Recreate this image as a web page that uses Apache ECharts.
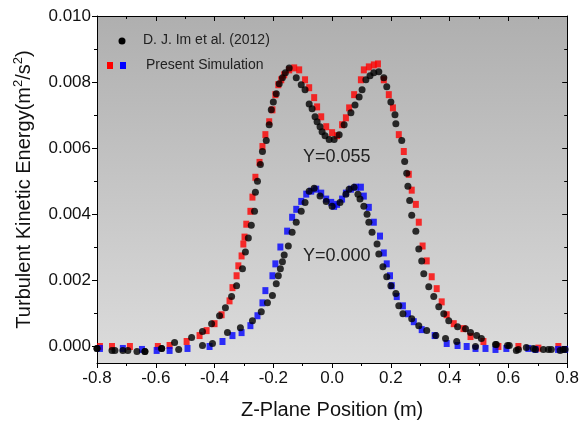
<!DOCTYPE html>
<html>
<head>
<meta charset="utf-8">
<script src="https://cdn.jsdelivr.net/npm/echarts@6/dist/echarts.min.js"></script>
<style>html,body{margin:0;padding:0;background:#fff;}#c{width:582px;height:425px;}</style>
</head>
<body>
<div id="c"></div>
<script>
// Present Simulation, Y=0.055 (red squares)
var simY055 = [[-0.790,0.0],[-0.749,0.0],[-0.688,0.0],[-0.593,0.0],[-0.553,0.00003],[-0.495,0.00015],[-0.451,0.00033],[-0.427,0.00048],[-0.400,0.00069],[-0.376,0.00096],[-0.349,0.00138],[-0.339,0.00178],[-0.325,0.00214],[-0.319,0.00244],[-0.308,0.00274],[-0.302,0.00310],[-0.298,0.00331],[-0.292,0.00370],[-0.278,0.00409],[-0.271,0.00452],[-0.261,0.00512],[-0.247,0.00557],[-0.237,0.00605],[-0.227,0.00641],[-0.214,0.00680],[-0.203,0.00716],[-0.193,0.00762],[-0.183,0.00792],[-0.173,0.00807],[-0.163,0.00822],[-0.146,0.00837],[-0.129,0.00843],[-0.112,0.00837],[-0.092,0.00807],[-0.078,0.00783],[-0.061,0.00753],[-0.051,0.00725],[-0.037,0.00695],[-0.020,0.00665],[0.000,0.00647],[0.017,0.00638],[0.034,0.00671],[0.047,0.00692],[0.058,0.00722],[0.075,0.00762],[0.098,0.00807],[0.108,0.00837],[0.125,0.00846],[0.142,0.00852],[0.156,0.00855],[0.176,0.00807],[0.193,0.00762],[0.207,0.00722],[0.227,0.00641],[0.244,0.00590],[0.261,0.00521],[0.271,0.00473],[0.285,0.00430],[0.295,0.00376],[0.308,0.00304],[0.322,0.00259],[0.339,0.00211],[0.356,0.00175],[0.373,0.00135],[0.390,0.00096],[0.414,0.00069],[0.447,0.00054],[0.471,0.00030],[0.515,0.00015],[0.566,0.0],[0.634,0.0],[0.702,-0.00005],[0.770,0.0]];
// Present Simulation, Y=0.000 (blue squares)
var simY000 = [[-0.790,-0.00006],[-0.712,-0.00006],[-0.647,-0.00009],[-0.597,-0.00012],[-0.553,-0.00012],[-0.492,-0.00006],[-0.417,0.0],[-0.373,0.00015],[-0.339,0.00033],[-0.308,0.00042],[-0.278,0.00063],[-0.254,0.00093],[-0.237,0.00132],[-0.227,0.00169],[-0.203,0.00214],[-0.193,0.00250],[-0.176,0.00301],[-0.153,0.00349],[-0.136,0.00391],[-0.122,0.00415],[-0.105,0.00439],[-0.088,0.00461],[-0.071,0.00470],[-0.054,0.00476],[-0.037,0.00464],[-0.020,0.00446],[-0.003,0.00436],[0.007,0.00424],[0.017,0.00430],[0.034,0.00446],[0.047,0.00464],[0.064,0.00476],[0.081,0.00482],[0.098,0.00482],[0.108,0.00455],[0.125,0.00421],[0.142,0.00376],[0.163,0.00334],[0.176,0.00283],[0.186,0.00250],[0.197,0.00214],[0.203,0.00184],[0.220,0.00151],[0.241,0.00123],[0.258,0.00099],[0.278,0.00075],[0.305,0.00051],[0.349,0.00033],[0.390,0.00009],[0.427,0.00003],[0.458,0.0],[0.488,-0.00006],[0.522,-0.00006],[0.556,-0.00009],[0.593,-0.00006],[0.668,-0.00006],[0.692,-0.00009],[0.769,-0.00009],[0.793,-0.00009]];
// D. J. Im et al. (2012), Y=0.055 (black circles)
var expY055 = [[-0.800,-0.00006],[-0.749,-0.00012],[-0.712,-0.00012],[-0.664,-0.00015],[-0.637,-0.00015],[-0.580,-0.00006],[-0.536,0.00012],[-0.478,0.00027],[-0.441,0.00045],[-0.410,0.00069],[-0.383,0.00093],[-0.363,0.00117],[-0.342,0.00151],[-0.325,0.00184],[-0.305,0.00235],[-0.295,0.00286],[-0.285,0.00328],[-0.275,0.00367],[-0.264,0.00409],[-0.261,0.00467],[-0.254,0.00500],[-0.244,0.00551],[-0.237,0.00590],[-0.224,0.00623],[-0.214,0.00671],[-0.207,0.00716],[-0.200,0.00740],[-0.190,0.00765],[-0.180,0.00795],[-0.169,0.00813],[-0.159,0.00828],[-0.146,0.00843],[-0.122,0.00813],[-0.105,0.00792],[-0.092,0.00777],[-0.078,0.00734],[-0.068,0.00719],[-0.058,0.00695],[-0.051,0.00680],[-0.041,0.00665],[-0.034,0.00650],[-0.024,0.00638],[-0.010,0.00626],[0.007,0.00626],[0.024,0.00641],[0.041,0.00671],[0.064,0.00707],[0.078,0.00731],[0.092,0.00755],[0.102,0.00777],[0.115,0.00807],[0.129,0.00819],[0.142,0.00828],[0.159,0.00831],[0.176,0.00813],[0.186,0.00786],[0.200,0.00740],[0.214,0.00701],[0.217,0.00674],[0.237,0.00623],[0.247,0.00560],[0.254,0.00524],[0.258,0.00485],[0.264,0.00442],[0.271,0.00397],[0.285,0.00349],[0.295,0.00295],[0.305,0.00259],[0.312,0.00220],[0.329,0.00181],[0.346,0.00151],[0.363,0.00120],[0.380,0.00099],[0.397,0.00078],[0.427,0.00060],[0.454,0.00054],[0.471,0.00042],[0.492,0.00033],[0.508,0.00024],[0.559,0.00006],[0.603,0.00003],[0.627,-0.00012],[0.661,-0.00003],[0.692,-0.00009],[0.719,-0.00009],[0.746,-0.00009],[0.776,-0.00012],[0.793,-0.00009]];
// D. J. Im et al. (2012), Y=0.000 (black circles)
var expY000 = [[-0.800,-0.00006],[-0.739,-0.00012],[-0.695,-0.00012],[-0.637,-0.00015],[-0.580,-0.00006],[-0.522,-0.00009],[-0.441,0.00003],[-0.407,0.00009],[-0.356,0.00042],[-0.312,0.00057],[-0.271,0.00078],[-0.241,0.00105],[-0.220,0.00132],[-0.203,0.00154],[-0.190,0.00190],[-0.183,0.00214],[-0.176,0.00235],[-0.169,0.00256],[-0.163,0.00277],[-0.149,0.00304],[-0.136,0.00346],[-0.122,0.00376],[-0.105,0.00409],[-0.092,0.00436],[-0.078,0.00470],[-0.061,0.00479],[-0.041,0.00455],[-0.020,0.00439],[0.000,0.00424],[0.027,0.00436],[0.047,0.00461],[0.058,0.00476],[0.075,0.00482],[0.088,0.00461],[0.095,0.00446],[0.108,0.00424],[0.119,0.00400],[0.125,0.00376],[0.136,0.00346],[0.153,0.00310],[0.159,0.00280],[0.173,0.00241],[0.186,0.00211],[0.200,0.00184],[0.217,0.00160],[0.227,0.00123],[0.241,0.00099],[0.271,0.00084],[0.295,0.00063],[0.322,0.00048],[0.353,0.00033],[0.386,0.00024],[0.424,0.00015],[0.488,0.0],[0.556,0.00006],[0.597,0.00003],[0.634,-0.00009],[0.685,-0.00006],[0.736,-0.00009],[0.786,-0.00009]];

var yMajorTicks = [0, 0.002, 0.004, 0.006, 0.008, 0.010];
var yMinorTicks = [0.001, 0.003, 0.005, 0.007, 0.009];
var legendNames = ['D. J. Im et al. (2012)', 'Present Simulation'];
var curveLabels = ['Y=0.055', 'Y=0.000'];

var FONT = 'Liberation Sans, Arial, sans-serif';
var chart = echarts.init(document.getElementById('c'), null, {renderer: 'canvas'});
var axisLineStyle = {color: '#000', width: 1};
var yCommon = {type: 'value', min: -0.0005, max: 0.010, splitLine: {show: false}};

var option = {
  animation: false,
  backgroundColor: '#fff',
  grid: {
    left: 97, right: 13, top: 16, bottom: 60, show: true, borderWidth: 0,
    backgroundColor: new echarts.graphic.LinearGradient(0, 0, 0, 1, [
      {offset: 0, color: '#afafaf'}, {offset: 1, color: '#dcdcdc'}
    ])
  },
  xAxis: [
    {
      type: 'value', min: -0.8, max: 0.8, interval: 0.2, position: 'bottom',
      axisLine: {show: true, onZero: false, lineStyle: axisLineStyle},
      axisTick: {show: true, inside: false, length: 5, lineStyle: axisLineStyle},
      minorTick: {show: true, splitNumber: 2, length: 3, lineStyle: axisLineStyle},
      splitLine: {show: false},
      axisLabel: {
        color: '#111', fontSize: 17, fontFamily: FONT, margin: 7,
        formatter: function (v) { return Math.abs(v) < 1e-9 ? '0.0' : v.toFixed(1); }
      },
      name: 'Z-Plane Position (m)', nameLocation: 'middle', nameGap: 37,
      nameTextStyle: {color: '#111', fontSize: 20, fontFamily: FONT}
    },
    {
      type: 'value', min: -0.8, max: 0.8, interval: 0.2, position: 'top',
      axisLine: {show: true, onZero: false, lineStyle: axisLineStyle},
      axisTick: {show: true, inside: true, length: 5, lineStyle: axisLineStyle},
      minorTick: {show: true, splitNumber: 2, length: 3, lineStyle: axisLineStyle},
      splitLine: {show: false}, axisLabel: {show: false}
    }
  ],
  yAxis: [
    Object.assign({}, yCommon, {
      position: 'left',
      axisLine: {show: true, onZero: false, lineStyle: axisLineStyle},
      axisTick: {show: true, inside: false, length: 5, customValues: yMajorTicks, lineStyle: axisLineStyle},
      axisLabel: {
        color: '#111', fontSize: 17, fontFamily: FONT, margin: 6, customValues: yMajorTicks,
        formatter: function (v) { return (Math.abs(v) < 1e-12 ? 0 : v).toFixed(3); }
      },
      name: '{n|Turbulent Kinetic Energy(m}{s|2}{n|/s}{s|2}{n|)}', nameLocation: 'middle', nameGap: 63, nameRotate: 90,
      nameTextStyle: {
        color: '#111', fontFamily: FONT,
        rich: {
          n: {fontSize: 20, fontFamily: FONT, color: '#111', lineHeight: 22, verticalAlign: 'bottom'},
          s: {fontSize: 13, fontFamily: FONT, color: '#111', lineHeight: 22, verticalAlign: 'top', padding: [0, 0, 9, 0]}
        }
      }
    }),
    Object.assign({}, yCommon, {
      position: 'left',
      axisLine: {show: false, onZero: false},
      axisTick: {show: true, inside: false, length: 3, customValues: yMinorTicks, lineStyle: axisLineStyle},
      axisLabel: {show: false}
    }),
    Object.assign({}, yCommon, {
      position: 'right',
      axisLine: {show: true, onZero: false, lineStyle: axisLineStyle},
      axisTick: {show: true, inside: true, length: 5, customValues: yMajorTicks, lineStyle: axisLineStyle},
      axisLabel: {show: false}
    }),
    Object.assign({}, yCommon, {
      position: 'right',
      axisLine: {show: false, onZero: false},
      axisTick: {show: true, inside: true, length: 3, customValues: yMinorTicks, lineStyle: axisLineStyle},
      axisLabel: {show: false}
    })
  ],
  series: [
    {name: 'simY055', type: 'scatter', data: simY055, symbol: 'rect', symbolSize: [6, 7], itemStyle: {color: '#ff0000'}, z: 2},
    {name: 'simY000', type: 'scatter', data: simY000, symbol: 'rect', symbolSize: [6, 7], itemStyle: {color: '#0000ff'}, z: 2},
    {name: 'expY055', type: 'scatter', data: expY055, symbol: 'circle', symbolSize: 7, itemStyle: {color: '#000'}, z: 3},
    {name: 'expY000', type: 'scatter', data: expY000, symbol: 'circle', symbolSize: 7, itemStyle: {color: '#000'}, z: 3}
  ],
  graphic: [
    {type: 'circle', shape: {cx: 122, cy: 41, r: 3.5}, style: {fill: '#000'}, z: 10},
    {type: 'text', left: 143, top: 33, style: {text: legendNames[0], fontSize: 14, fontFamily: FONT, fill: '#222'}, z: 10},
    {type: 'rect', shape: {x: 107, y: 62, width: 6, height: 7}, style: {fill: '#ff0000'}, z: 10},
    {type: 'rect', shape: {x: 120, y: 62, width: 6, height: 7}, style: {fill: '#0000ff'}, z: 10},
    {type: 'text', left: 146, top: 58, style: {text: legendNames[1], fontSize: 14, fontFamily: FONT, fill: '#222'}, z: 10},
    {type: 'text', left: 303, top: 148, style: {text: curveLabels[0], fontSize: 18, fontFamily: FONT, fill: '#222'}, z: 10},
    {type: 'text', left: 303, top: 247, style: {text: curveLabels[1], fontSize: 18, fontFamily: FONT, fill: '#222'}, z: 10}
  ]
};
chart.setOption(option);
</script>
</body>
</html>
